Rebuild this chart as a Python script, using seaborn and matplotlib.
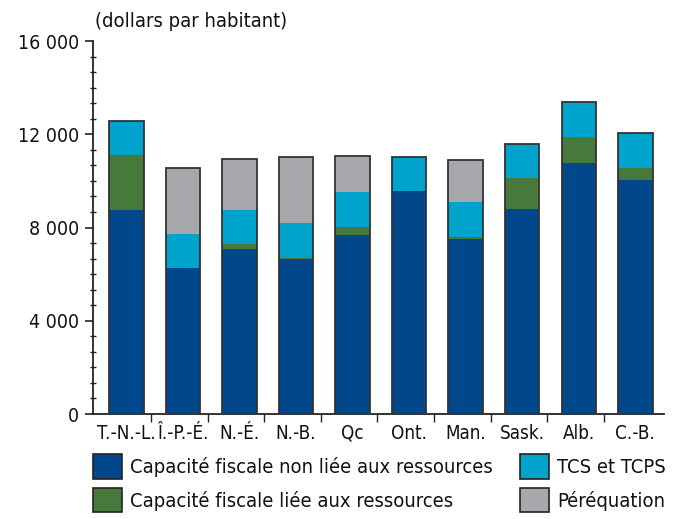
import numpy as np
import pandas as pd
import seaborn as sns
import matplotlib.pyplot as plt
from matplotlib.patches import Patch
from matplotlib.ticker import MultipleLocator, FixedLocator, FuncFormatter

# DATA (dollars par habitant)
provinces = ['T.-N.-L.', 'Î.-P.-É.', 'N.-É.', 'N.-B.', 'Qc', 'Ont.', 'Man.', 'Sask.', 'Alb.', 'C.-B.']
non_ressources = [8750, 6260, 7080, 6650, 7680, 9570, 7510, 8795, 10770, 10040]
ressources = [2360, 0, 215, 40, 340, 0, 85, 1330, 1115, 515]
tcs_tcps = [1470, 1460, 1460, 1490, 1500, 1460, 1500, 1450, 1515, 1500]
perequation = [0, 2845, 2200, 2860, 1560, 0, 1800, 0, 0, 0]

labels = ['Capacité fiscale non liée aux ressources', 'Capacité fiscale liée aux ressources',
          'TCS et TCPS', 'Péréquation']
colors = ['#00478c', '#477a3a', '#00a3cc', '#a7a8ab']

df = pd.DataFrame({'province': provinces, 'a': non_ressources, 'b': ressources,
                   'c': tcs_tcps, 'd': perequation})
df['ab'] = df['a'] + df['b']
df['abc'] = df['ab'] + df['c']
df['abcd'] = df['abc'] + df['d']

sns.set_style('white')
plt.rcParams['font.family'] = ['DejaVu Sans']
plt.rcParams['font.stretch'] = 'condensed'
plt.rcParams['text.color'] = '#111111'

fig = plt.figure(figsize=(6.84, 5.19), dpi=100)
ax = fig.add_axes([0.136, 0.2023, 0.835, 0.7187])

w = 0.61
# stacked bars drawn as overlapping cumulative totals
for col, c in zip(['abcd', 'abc', 'ab', 'a'], colors[::-1]):
    sns.barplot(data=df, x='province', y=col, color=c, width=w, saturation=1,
                linewidth=0, ax=ax)
sns.barplot(data=df, x='province', y='abcd', color='#333333', fill=False, width=w,
            linewidth=1.3, ax=ax, zorder=5)

ax.set_xlim(-0.59, 9.51)
ax.set_ylim(0, 16000)
ax.set_xlabel('')
ax.set_ylabel('')

ax.set_yticks([0, 4000, 8000, 12000, 16000])
ax.yaxis.set_major_formatter(FuncFormatter(lambda v, p: f'{int(v):,}'.replace(',', ' ')))
ax.yaxis.set_minor_locator(MultipleLocator(4000 / 6))
ax.tick_params(axis='y', which='major', direction='out', length=6, width=1.2,
               labelsize=14, pad=4, left=True, color='#222222', labelcolor='#111111')
ax.tick_params(axis='y', which='minor', direction='inout', length=4, width=1, left=True,
               color='#222222')

ax.set_xticks(range(len(provinces)))
ax.set_xticklabels(provinces)
ax.xaxis.set_minor_locator(FixedLocator([i + 0.44 for i in range(len(provinces) - 1)]))
ax.tick_params(axis='x', which='major', length=0, labelsize=13.5, pad=7, labelcolor='#111111')
ax.tick_params(axis='x', which='minor', direction='out', length=6, width=1,
               bottom=True, color='#222222')

for s in ['top', 'right']:
    ax.spines[s].set_visible(False)
for s in ['left', 'bottom']:
    ax.spines[s].set_color('#222222')
    ax.spines[s].set_linewidth(1.3)

fig.text(0.139, 0.958, '(dollars par habitant)', fontsize=14.5, ha='left', va='center')

handles = [Patch(facecolor=colors[i], edgecolor='#222222', linewidth=1.2) for i in [0, 1, 2, 3]]
fig.legend(handles, labels, ncol=2, loc='upper left', bbox_to_anchor=(0.1355, 0.1252),
           frameon=False, fontsize=14.5, handlelength=1.45, handleheight=1.5,
           handletextpad=0.4, labelspacing=0.45, columnspacing=1.35, borderaxespad=0,
           borderpad=0)

fig.savefig('out.png', dpi=100)
